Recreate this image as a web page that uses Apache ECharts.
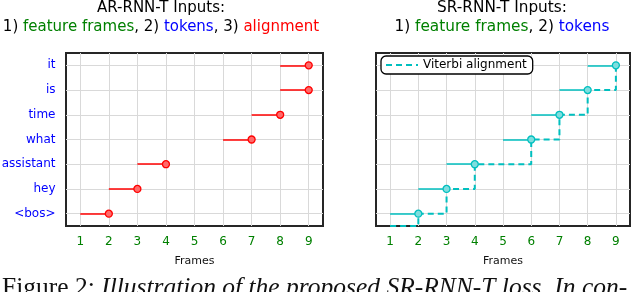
<!DOCTYPE html>
<html>
<head>
<meta charset="utf-8">
<script src="https://cdn.jsdelivr.net/npm/echarts@6/dist/echarts.min.js"></script>
<style>html,body{margin:0;padding:0;background:#fff}#c{width:632px;height:292px}</style>
</head>
<body>
<div id="c"></div>
<script>
// ---- data ----
const tokens = ['<bos>', 'hey', 'assistant', 'what', 'time', 'is', 'it'];
const frameTicks = [1, 2, 3, 4, 5, 6, 7, 8, 9];
const tokenIdx = [0, 1, 2, 3, 4, 5, 6];
// AR-RNN-T alignment segments (start frame -> end frame) per token
const arStart = [1, 2, 3, 6, 7, 8, 8];
const arEnd   = [2, 3, 4, 7, 8, 9, 9];
// SR-RNN-T token segments
const srStart = [1, 2, 3, 5, 6, 7, 8];
const srEnd   = [2, 3, 4, 6, 7, 8, 9];
// Viterbi alignment path
const viterbiX = [1, 2, 2, 3, 3, 4, 4, 6, 6, 7, 7, 8, 8, 9, 9];
const viterbiY = [-0.5, -0.5, 0, 0, 1, 1, 2, 2, 3, 3, 4, 4, 5, 5, 6];

const FONT = 'DejaVu Sans';
const GREEN = '#008000', BLUE = '#0000ff', RED = '#ff0000', CYAN = '#00bfbf';

function xAx(gi) {
  return {
    gridIndex: gi, type: 'value', min: 0.5, max: 9.5,
    axisLine: {show: false}, axisTick: {show: false, customValues: frameTicks},
    axisLabel: {customValues: frameTicks, color: GREEN, fontSize: 12, fontFamily: FONT, margin: 10},
    splitLine: {show: true, lineStyle: {color: '#d9d9d9', width: 1}},
    name: 'Frames', nameLocation: 'middle', nameGap: 30,
    nameTextStyle: {color: '#111', fontSize: 11, fontFamily: FONT}
  };
}
function yAx(gi, showLabels) {
  return {
    gridIndex: gi, type: 'value', min: -0.5, max: 6.5,
    axisLine: {show: false}, axisTick: {show: false, customValues: tokenIdx},
    axisLabel: {show: showLabels, customValues: tokenIdx, color: BLUE, fontSize: 12, fontFamily: FONT, margin: 10.5,
      formatter: v => tokens[Math.round(v)]},
    splitLine: {show: true, lineStyle: {color: '#d9d9d9', width: 1}}
  };
}
function rich(fs) {
  const base = {fontSize: fs, fontFamily: FONT, lineHeight: 19};
  return {
    k: Object.assign({color: '#000'}, base),
    g: Object.assign({color: GREEN}, base),
    b: Object.assign({color: BLUE}, base),
    r: Object.assign({color: RED}, base)
  };
}

const option = {
  animation: false,
  title: [
    {text: '{k|AR-RNN-T Inputs:}\n{k|1) }{g|feature frames}{k|, 2) }{b|tokens}{k|, 3) }{r|alignment}',
     left: 161, top: -1, textAlign: 'center', padding: 0,
     textStyle: {fontSize: 15, fontFamily: FONT, fontWeight: 'normal', color: '#000', lineHeight: 19, rich: rich(15)}},
    {text: '{k|SR-RNN-T Inputs:}\n{k|1) }{g|feature frames}{k|, 2) }{b|tokens}',
     left: 502, top: -1, textAlign: 'center', padding: 0,
     textStyle: {fontSize: 15.3, fontFamily: FONT, fontWeight: 'normal', color: '#000', lineHeight: 19, rich: rich(15.3)}}
  ],
  legend: {
    data: ['Viterbi alignment'], left: 381, top: 56,
    itemWidth: 32, itemHeight: 10, padding: [3, 6, 3, 4],
    itemStyle: {opacity: 0},
    backgroundColor: '#fff', borderColor: '#000', borderWidth: 1.3, borderRadius: 5,
    textStyle: {color: '#000', fontSize: 12, fontFamily: FONT}
  },
  grid: [
    {left: 66, top: 53, width: 257, height: 173, outerBoundsMode: 'none', containLabel: false,
     show: true, borderColor: '#262626', borderWidth: 2, backgroundColor: '#fff'},
    {left: 376, top: 53, width: 254, height: 173, outerBoundsMode: 'none', containLabel: false,
     show: true, borderColor: '#262626', borderWidth: 2, backgroundColor: '#fff'}
  ],
  xAxis: [xAx(0), xAx(1)],
  yAxis: [yAx(0, true), yAx(1, false)],
  series: [
    {type: 'lines', coordinateSystem: 'cartesian2d', xAxisIndex: 0, yAxisIndex: 0, z: 3,
     lineStyle: {color: RED, width: 1.6, opacity: 1},
     data: tokenIdx.map(i => ({coords: [[arStart[i], i], [arEnd[i], i]]}))},
    {type: 'scatter', xAxisIndex: 0, yAxisIndex: 0, z: 5, symbol: 'circle', symbolSize: 7,
     itemStyle: {color: '#ff6a6a', borderColor: RED, borderWidth: 1.3, opacity: 1},
     data: tokenIdx.map(i => [arEnd[i], i])},
    {type: 'lines', coordinateSystem: 'cartesian2d', xAxisIndex: 1, yAxisIndex: 1, z: 3,
     lineStyle: {color: CYAN, width: 1.6, opacity: 1},
     data: tokenIdx.map(i => ({coords: [[srStart[i], i], [srEnd[i], i]]}))},
    {name: 'Viterbi alignment', type: 'line', xAxisIndex: 1, yAxisIndex: 1, z: 4,
     symbol: 'none', color: CYAN,
     lineStyle: {color: CYAN, width: 2, type: [6, 4]},
     data: viterbiX.map((x, k) => [x, viterbiY[k]])},
    {type: 'scatter', xAxisIndex: 1, yAxisIndex: 1, z: 5, symbol: 'circle', symbolSize: 7,
     itemStyle: {color: '#7fdede', borderColor: CYAN, borderWidth: 1.3, opacity: 1},
     data: tokenIdx.map(i => [srEnd[i], i])}
  ],
  graphic: [
    {type: 'text', left: 2, top: 275, z: 10,
     style: {text: '{a|Figure 2: }{b|Illustration of the proposed SR-RNN-T loss. In con-}',
       rich: {a: {fontFamily: 'Liberation Serif', fontSize: 25.5, fill: '#111'},
              b: {fontFamily: 'Liberation Serif', fontSize: 25.5, fontStyle: 'italic', fill: '#111'}}}}
  ]
};
const chart = echarts.init(document.getElementById('c'), null, {renderer: 'canvas'});
chart.setOption(option);
</script>
</body>
</html>
